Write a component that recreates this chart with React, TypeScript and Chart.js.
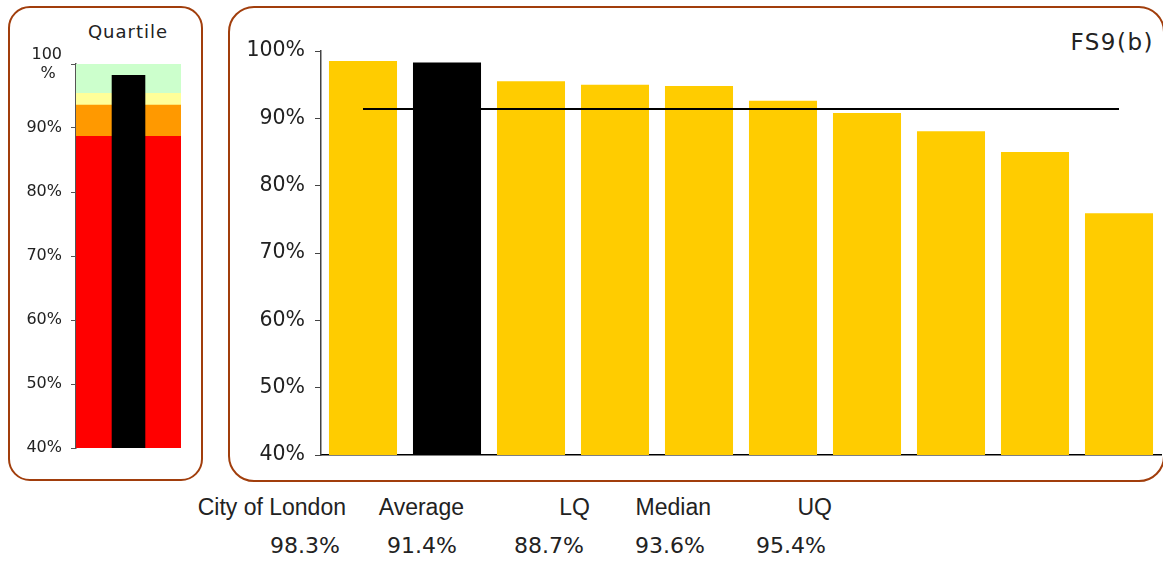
import React, { useEffect, useRef } from 'react';
import { Chart, registerables } from 'chart.js';

Chart.register(...registerables);

// ---- data ----
const categories = [
  'Authority 1', 'City of London', 'Authority 3', 'Authority 4', 'Authority 5',
  'Authority 6', 'Authority 7', 'Authority 8', 'Authority 9', 'Authority 10',
];
const values = [98.5, 98.3, 95.5, 95.0, 94.8, 92.6, 90.8, 88.1, 85.0, 75.9];
const highlightIndex = 1;

const cityValue = 98.3;
const averageValue = 91.4;
const lowerQuartile = 88.7;
const medianValue = 93.6;
const upperQuartile = 95.4;

const summaryLabels = ['City of London', 'Average', 'LQ', 'Median', 'UQ'];
const summaryValues = [cityValue, averageValue, lowerQuartile, medianValue, upperQuartile];

const yTicks = [40, 50, 60, 70, 80, 90, 100];
const axisMin = 40;
const axisMax = 100;

const chartTitle = 'FS9(b)';
const quartileTitle = 'Quartile';

// ---- styles ----
const YELLOW = '#FFCC00';
const BORDER = '#A13E0C';
const TEXT = '#222222';
const labelRights = [346, 464, 590, 711, 832];
const valueRights = [340, 457, 584, 705, 826];

export default function App() {
  const leftRef = useRef<HTMLCanvasElement | null>(null);
  const rightRef = useRef<HTMLCanvasElement | null>(null);

  useEffect(() => {
    Chart.defaults.font.family = 'DejaVu Sans';
    const left = new Chart(leftRef.current as HTMLCanvasElement, {
      type: 'bar',
      data: {
        labels: [quartileTitle],
        datasets: [
          { label: 'City of London', data: [[axisMin, cityValue]], backgroundColor: '#000000', barPercentage: 0.32, categoryPercentage: 1, grouped: false, order: 0 },
          { label: 'Lowest quartile', data: [[axisMin, lowerQuartile]], backgroundColor: '#FF0000', barPercentage: 1, categoryPercentage: 1, grouped: false, order: 1 },
          { label: 'Second quartile', data: [[lowerQuartile, medianValue]], backgroundColor: '#FF9900', barPercentage: 1, categoryPercentage: 1, grouped: false, order: 1 },
          { label: 'Third quartile', data: [[medianValue, upperQuartile]], backgroundColor: '#FFFF99', barPercentage: 1, categoryPercentage: 1, grouped: false, order: 1 },
          { label: 'Top quartile', data: [[upperQuartile, axisMax]], backgroundColor: '#CCFFCC', barPercentage: 1, categoryPercentage: 1, grouped: false, order: 1 },
        ] as any,
      },
      options: {
        animation: false,
        responsive: false,
        maintainAspectRatio: false,
        layout: { padding: { left: 0, right: 20, top: 56, bottom: 31 } },
        plugins: { legend: { display: false }, tooltip: { enabled: false }, title: { display: false } },
        scales: {
          x: { display: false },
          y: {
            min: axisMin,
            max: axisMax,
            afterFit: (s: any) => { s.width = 66; },
            afterBuildTicks: (s: any) => { s.ticks = yTicks.map((v) => ({ value: v })); },
            ticks: {
              callback: (v: any) => (v === 100 ? ['100', '%\u2009\u2009'] : v + '%'),
              font: { family: 'DejaVu Sans', size: 16 },
              color: TEXT,
              padding: 9,
            },
            grid: { drawOnChartArea: false, drawTicks: true, tickLength: 5, color: '#555555' },
            border: { color: '#555555', width: 1.5 },
          },
        },
      } as any,
    });

    const right = new Chart(rightRef.current as HTMLCanvasElement, {
      type: 'bar',
      data: {
        labels: categories,
        datasets: [
          {
            type: 'line',
            label: 'Average',
            data: categories.map(() => averageValue),
            borderColor: '#000000',
            borderWidth: 2,
            pointRadius: 0,
            fill: false,
            order: 0,
          },
          {
            type: 'bar',
            label: 'FS9(b)',
            data: values,
            backgroundColor: values.map((_, i) => (i === highlightIndex ? '#000000' : YELLOW)),
            barPercentage: 0.81,
            categoryPercentage: 1,
            order: 1,
          },
        ] as any,
      },
      options: {
        animation: false,
        responsive: false,
        maintainAspectRatio: false,
        layout: { padding: { left: 0, right: 2, top: 43, bottom: 25 } },
        plugins: { legend: { display: false }, tooltip: { enabled: false }, title: { display: false } },
        scales: {
          x: {
            afterFit: (s: any) => { s.height = 0; },
            ticks: { display: false },
            grid: { display: false },
            border: { color: '#000000', width: 1.5 },
          },
          y: {
            min: axisMin,
            max: axisMax,
            afterFit: (s: any) => { s.width = 91; },
            afterBuildTicks: (s: any) => { s.ticks = yTicks.map((v) => ({ value: v })); },
            ticks: {
              callback: (v: any) => v + '%',
              font: { family: 'DejaVu Sans', size: 20.5 },
              color: TEXT,
              padding: 10,
            },
            grid: { drawOnChartArea: false, drawTicks: true, tickLength: 6, color: '#444444' },
            border: { color: '#444444', width: 1.5 },
          },
        },
      } as any,
    });

    return () => {
      left.destroy();
      right.destroy();
    };
  }, []);

  return (
    <div style={{ position: 'absolute', left: 0, top: 0, width: 1163, height: 561, overflow: 'hidden', background: '#ffffff' }}>
      <div style={{ position: 'absolute', left: 8, top: 6, width: 195, height: 475, boxSizing: 'border-box', border: `2px solid ${BORDER}`, borderRadius: 22 }} />
      <div style={{ position: 'absolute', left: 228, top: 6, width: 937, height: 476, boxSizing: 'border-box', border: `2px solid ${BORDER}`, borderRadius: 26 }} />
      <div style={{ position: 'absolute', left: 48, top: 21, width: 160, textAlign: 'center', fontFamily: 'DejaVu Sans', fontSize: 18, lineHeight: '22px', letterSpacing: 1, color: TEXT }}>
        {quartileTitle}
      </div>
      <div style={{ position: 'absolute', left: 952, top: 28, width: 202, textAlign: 'right', fontFamily: 'DejaVu Sans', fontSize: 23, lineHeight: '28px', letterSpacing: 1.5, color: TEXT }}>
        {chartTitle}
      </div>
      <canvas ref={leftRef} width={191} height={471} style={{ position: 'absolute', left: 10, top: 8, width: 191, height: 471 }} />
      <canvas ref={rightRef} width={933} height={472} style={{ position: 'absolute', left: 230, top: 8, width: 933, height: 472 }} />
      {summaryLabels.map((lab, i) => (
        <div key={'l' + i} style={{ position: 'absolute', left: labelRights[i] - 200, top: 494, width: 200, textAlign: 'right', fontFamily: 'Liberation Sans', fontSize: 23, lineHeight: '26px', color: TEXT, whiteSpace: 'nowrap' }}>
          {lab}
        </div>
      ))}
      {summaryValues.map((v, i) => (
        <div key={'v' + i} style={{ position: 'absolute', left: valueRights[i] - 200, top: 533, width: 200, textAlign: 'right', fontFamily: 'DejaVu Sans', fontSize: 22, lineHeight: '26px', color: TEXT, whiteSpace: 'nowrap' }}>
          {v.toFixed(1) + '%'}
        </div>
      ))}
    </div>
  );
}
